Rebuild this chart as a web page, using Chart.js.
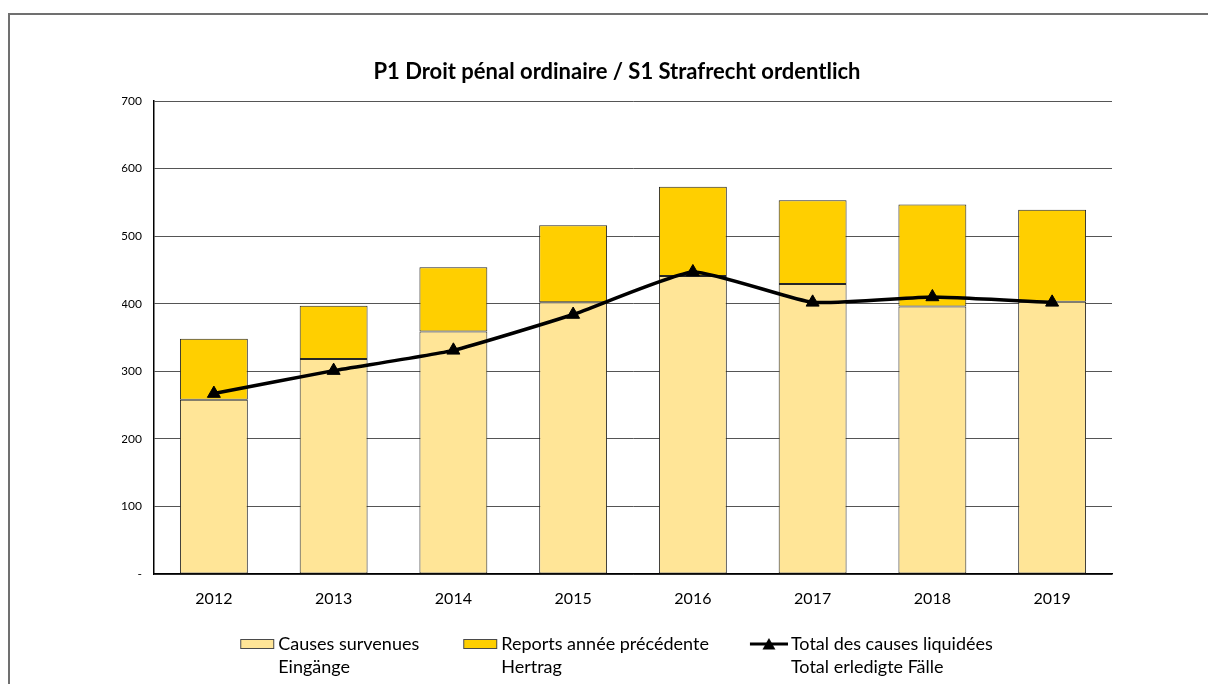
<!DOCTYPE html>
<html>
<head>
<meta charset="utf-8">
<script src="https://cdn.jsdelivr.net/npm/chart.js@4/dist/chart.umd.min.js"></script>
<style>
  html, body { margin: 0; padding: 0; background: #fff; }
  #wrap { width: 1208px; height: 684px; position: relative; }
</style>
</head>
<body>
<div id="wrap"><canvas id="c" width="1208" height="684"></canvas></div>
<script>
const years = ['2012', '2013', '2014', '2015', '2016', '2017', '2018', '2019'];
const eingaenge = [258, 318, 359, 402, 441, 429, 396, 403];
const reports = [90, 79, 95, 114, 132, 124, 151, 136];
const erledigt = [267, 301, 331, 384, 447, 402, 410, 402];
const yTicks = [0, 100, 200, 300, 400, 500, 600, 700];

const titleText = 'P1 Droit pénal ordinaire / S1 Strafrecht ordentlich';
const labelEingaenge = ['Causes survenues', 'Eingänge'];
const labelReports = ['Reports année précédente', 'Hertrag'];
const labelErledigt = ['Total des causes liquidées', 'Total erledigte Fälle'];

const colLight = '#FFE597';
const colDark = '#FFCF00';
const FONT = 'Lato, "Open Sans", sans-serif';
const LEG_SIZE = 18;
const LEG_LINE = 23;
const PSW = 28;

function makeIcon(kind, fill) {
  const cv = document.createElement('canvas');
  cv.width = 40; cv.height = 14;
  const g = cv.getContext('2d');
  if (kind === 'box') {
    g.fillStyle = fill;
    g.fillRect(5.5, 2.5, 33, 9);
    g.strokeStyle = '#4a4a4a';
    g.lineWidth = 1;
    g.strokeRect(5.5, 2.5, 33, 9);
  } else {
    g.strokeStyle = '#000';
    g.lineWidth = 3;
    g.beginPath(); g.moveTo(2, 7); g.lineTo(40, 7); g.stroke();
    g.fillStyle = '#000';
    g.beginPath(); g.moveTo(21, 1); g.lineTo(27.5, 12.5); g.lineTo(14.5, 12.5); g.closePath(); g.fill();
  }
  return cv;
}
const icons = [makeIcon('box', colLight), makeIcon('box', colDark), makeIcon('line')];
const legendOrder = [1, 2, 0];

const framePlugin = {
  id: 'frame',
  beforeDraw(chart) {
    const ctx = chart.ctx;
    ctx.save();
    ctx.fillStyle = '#fff';
    ctx.fillRect(0, 0, chart.width, chart.height);
    ctx.strokeStyle = '#707070';
    ctx.lineWidth = 2;
    ctx.strokeRect(9, 14, chart.width + 20, chart.height + 20);
    ctx.restore();
  }
};

const secondLinePlugin = {
  id: 'secondLine',
  afterDraw(chart) {
    const lg = chart.legend;
    if (!lg || !lg.legendHitBoxes) return;
    const ctx = chart.ctx;
    ctx.save();
    ctx.fillStyle = '#000';
    ctx.font = LEG_SIZE + 'px ' + FONT;
    ctx.textAlign = 'left';
    ctx.textBaseline = 'middle';
    lg.legendHitBoxes.forEach((hb, i) => {
      const ds = chart.data.datasets[legendOrder[i]];
      const x = hb.left + PSW + LEG_SIZE / 2;
      const y = hb.top + hb.height / 2 + LEG_LINE;
      ctx.fillText(ds.label[1], x, y);
    });
    ctx.restore();
  }
};

new Chart(document.getElementById('c'), {
  type: 'bar',
  data: {
    labels: years,
    datasets: [
      {
        type: 'line', label: labelErledigt, data: erledigt, order: 0, stack: 'line',
        borderColor: '#000', backgroundColor: '#000', borderWidth: 3.5,
        pointStyle: 'triangle', pointRadius: 7.5, pointHoverRadius: 7.5,
        pointBackgroundColor: '#000', pointBorderColor: '#000', pointBorderWidth: 1,
        tension: 0.15, fill: false
      },
      {
        label: labelEingaenge, data: eingaenge, order: 1, stack: 'bars',
        backgroundColor: colLight, borderColor: '#262626', borderWidth: 1, borderSkipped: false,
        barPercentage: 0.567, categoryPercentage: 1
      },
      {
        label: labelReports, data: reports, order: 1, stack: 'bars',
        backgroundColor: colDark, borderColor: '#262626', borderWidth: 1, borderSkipped: false,
        barPercentage: 0.567, categoryPercentage: 1
      }
    ]
  },
  options: {
    responsive: false,
    animation: false,
    layout: { padding: { left: 122, right: 96, top: 0, bottom: 21 } },
    plugins: {
      title: {
        display: true, text: titleText, color: '#000',
        font: { family: FONT, size: 22, weight: 'bold', lineHeight: 1.2 },
        padding: { top: 58.5, bottom: 16.1 }
      },
      legend: {
        position: 'bottom',
        labels: {
          color: '#000',
          font: { family: FONT, size: LEG_SIZE, lineHeight: 1.2 },
          usePointStyle: true,
          pointStyleWidth: PSW,
          boxHeight: 12,
          padding: 45,
          generateLabels(chart) {
            return legendOrder.map((di, k) => ({
              text: chart.data.datasets[di].label[0],
              pointStyle: icons[k],
              datasetIndex: di,
              hidden: false,
              fillStyle: 'transparent',
              strokeStyle: 'transparent',
              lineWidth: 0,
              fontColor: '#000'
            }));
          }
        }
      },
      tooltip: { enabled: false }
    },
    scales: {
      x: {
        stacked: true,
        afterFit(scale) { scale.height = 16; },
        grid: { display: false, drawTicks: false },
        border: { display: true, color: '#000', width: 1.5 },
        ticks: { color: '#000', font: { family: FONT, size: 16 }, mirror: true, padding: -34.6 }
      },
      y: {
        stacked: true,
        min: 0, max: 700,
        afterBuildTicks(scale) { scale.ticks = yTicks.map(v => ({ value: v })); },
        afterFit(scale) { scale.width = 32; },
        grid: { color: '#555', lineWidth: 1, drawTicks: false },
        border: { display: true, color: '#000', width: 1.5 },
        ticks: {
          color: '#000', font: { family: FONT, size: 12 }, padding: 12,
          callback: (v) => v === 0 ? '-' : String(v)
        }
      }
    }
  },
  plugins: [framePlugin, secondLinePlugin]
});
</script>
</body>
</html>
